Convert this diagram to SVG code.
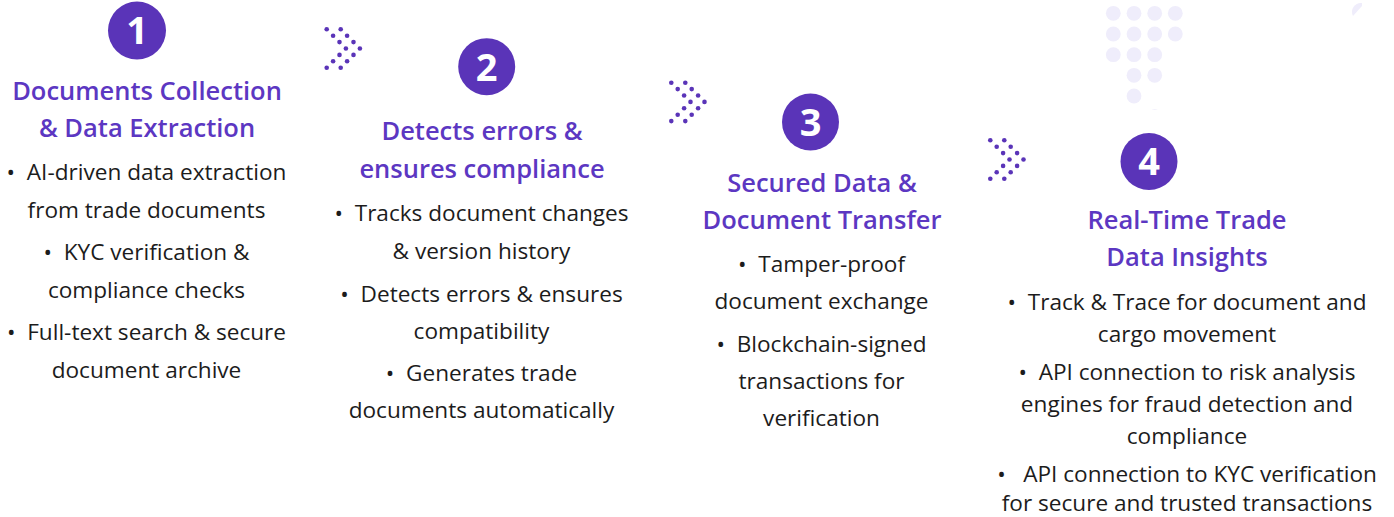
<svg xmlns="http://www.w3.org/2000/svg" xmlns:xlink="http://www.w3.org/1999/xlink" width="1394" height="517" viewBox="0 0 1394 517">
<style>
.num{font-family:"Open Sans","Liberation Sans",sans-serif;font-weight:700;font-size:38px;fill:#ffffff;text-anchor:middle}
.badge{fill:#5A34B8}
.title{font-family:"Open Sans","Liberation Sans",sans-serif;font-weight:600;font-size:25.5px;fill:#5C37C2;text-anchor:middle}
.body{font-family:"Open Sans","Liberation Sans",sans-serif;font-weight:400;font-size:22.6px;fill:#1c1c1c;text-anchor:middle;white-space:pre}
.bg{fill:#EFEDFB}
.cd{fill:#5A34B8}
</style>
<defs>
<g id="chev">
<circle class="cd" cx="0" cy="0" r="2.3"/><circle class="cd" cx="6.4" cy="6.4" r="2.3"/><circle class="cd" cx="12.8" cy="12.8" r="2.3"/><circle class="cd" cx="19.2" cy="19.2" r="2.3"/><circle class="cd" cx="12.8" cy="25.6" r="2.3"/><circle class="cd" cx="6.4" cy="32" r="2.3"/><circle class="cd" cx="0" cy="38.4" r="2.3"/>
<circle class="cd" cx="14" cy="0" r="2.3"/><circle class="cd" cx="20.4" cy="6.4" r="2.3"/><circle class="cd" cx="26.8" cy="12.8" r="2.3"/><circle class="cd" cx="33.2" cy="19.2" r="2.3"/><circle class="cd" cx="26.8" cy="25.6" r="2.3"/><circle class="cd" cx="20.4" cy="32" r="2.3"/><circle class="cd" cx="14" cy="38.4" r="2.3"/>
</g>
<clipPath id="bgclip"><rect x="1090" y="0" width="120" height="110"/></clipPath>
</defs>
<rect width="1394" height="517" fill="#ffffff"/>
<g id="background-dots" clip-path="url(#bgclip)">
<circle class="bg" cx="1113.3" cy="13.3" r="7.4"/><circle class="bg" cx="1134" cy="13.3" r="7.4"/><circle class="bg" cx="1154.7" cy="13.3" r="7.4"/><circle class="bg" cx="1175.3" cy="13.3" r="7.4"/>
<circle class="bg" cx="1113.3" cy="34" r="7.4"/><circle class="bg" cx="1134" cy="34" r="7.4"/><circle class="bg" cx="1154.7" cy="34" r="7.4"/><circle class="bg" cx="1175.3" cy="34" r="7.4"/>
<circle class="bg" cx="1113.3" cy="54.7" r="7.4"/><circle class="bg" cx="1134" cy="54.7" r="7.4"/><circle class="bg" cx="1154.7" cy="54.7" r="7.4"/>
<circle class="bg" cx="1134" cy="75.3" r="7.4"/><circle class="bg" cx="1154.7" cy="75.3" r="7.4"/>
<circle class="bg" cx="1134" cy="96" r="7.4"/>
<circle class="bg" cx="1154.7" cy="116.7" r="7.4"/>
</g>
<path class="bg" d="M1362,3 A9,9 0 0 0 1353,16 L1362,6 Z"/>
<g id="connectors">
<use xlink:href="#chev" href="#chev" x="326.7" y="29.3"/>
<use xlink:href="#chev" href="#chev" x="671.3" y="82.7"/>
<use xlink:href="#chev" href="#chev" x="990.3" y="140.3"/>
</g>
<g id="step1">
<circle class="badge" cx="137" cy="30.5" r="29"/>
<text class="num" x="137" y="44.3">1</text>
<text class="title" x="147" y="100">Documents Collection</text>
<text class="title" x="147" y="137">&amp; Data Extraction</text>
<text class="body" x="146.5" y="180">•  AI-driven data extraction</text>
<text class="body" x="146.5" y="218">from trade documents</text>
<text class="body" x="146.5" y="260">•  KYC verification &amp;</text>
<text class="body" x="146.5" y="298">compliance checks</text>
<text class="body" x="146.5" y="340">•  Full-text search &amp; secure</text>
<text class="body" x="146.5" y="378">document archive</text>
</g>
<g id="step2">
<circle class="badge" cx="486.7" cy="66.7" r="28.5"/>
<text class="num" x="486.7" y="80.5">2</text>
<text class="title" x="482" y="140">Detects errors &amp;</text>
<text class="title" x="482" y="178">ensures compliance</text>
<text class="body" x="481.5" y="221">•  Tracks document changes</text>
<text class="body" x="481.5" y="259">&amp; version history</text>
<text class="body" x="481.5" y="302">•  Detects errors &amp; ensures</text>
<text class="body" x="481.5" y="339">compatibility</text>
<text class="body" x="481.5" y="381">•  Generates trade</text>
<text class="body" x="481.5" y="418">documents automatically</text>
</g>
<g id="step3">
<circle class="badge" cx="810.5" cy="122" r="28.5"/>
<text class="num" x="810.5" y="135.8">3</text>
<text class="title" x="822" y="192">Secured Data &amp;</text>
<text class="title" x="822" y="229">Document Transfer</text>
<text class="body" x="821.5" y="272">•  Tamper-proof</text>
<text class="body" x="821.5" y="309">document exchange</text>
<text class="body" x="821.5" y="352">•  Blockchain-signed</text>
<text class="body" x="821.5" y="389">transactions for</text>
<text class="body" x="821.5" y="426">verification</text>
</g>
<g id="step4">
<circle class="badge" cx="1149" cy="161.5" r="28.5"/>
<text class="num" x="1149" y="175.3">4</text>
<text class="title" x="1187" y="229">Real-Time Trade</text>
<text class="title" x="1187" y="266">Data Insights</text>
<text class="body" x="1187" y="310">•  Track &amp; Trace for document and</text>
<text class="body" x="1187" y="342">cargo movement</text>
<text class="body" x="1187" y="380">•  API connection to risk analysis</text>
<text class="body" x="1187" y="412">engines for fraud detection and</text>
<text class="body" x="1187" y="444">compliance</text>
<text class="body" x="1187" y="482">•   API connection to KYC verification</text>
<text class="body" x="1187" y="511">for secure and trusted transactions</text>
</g>
</svg>
